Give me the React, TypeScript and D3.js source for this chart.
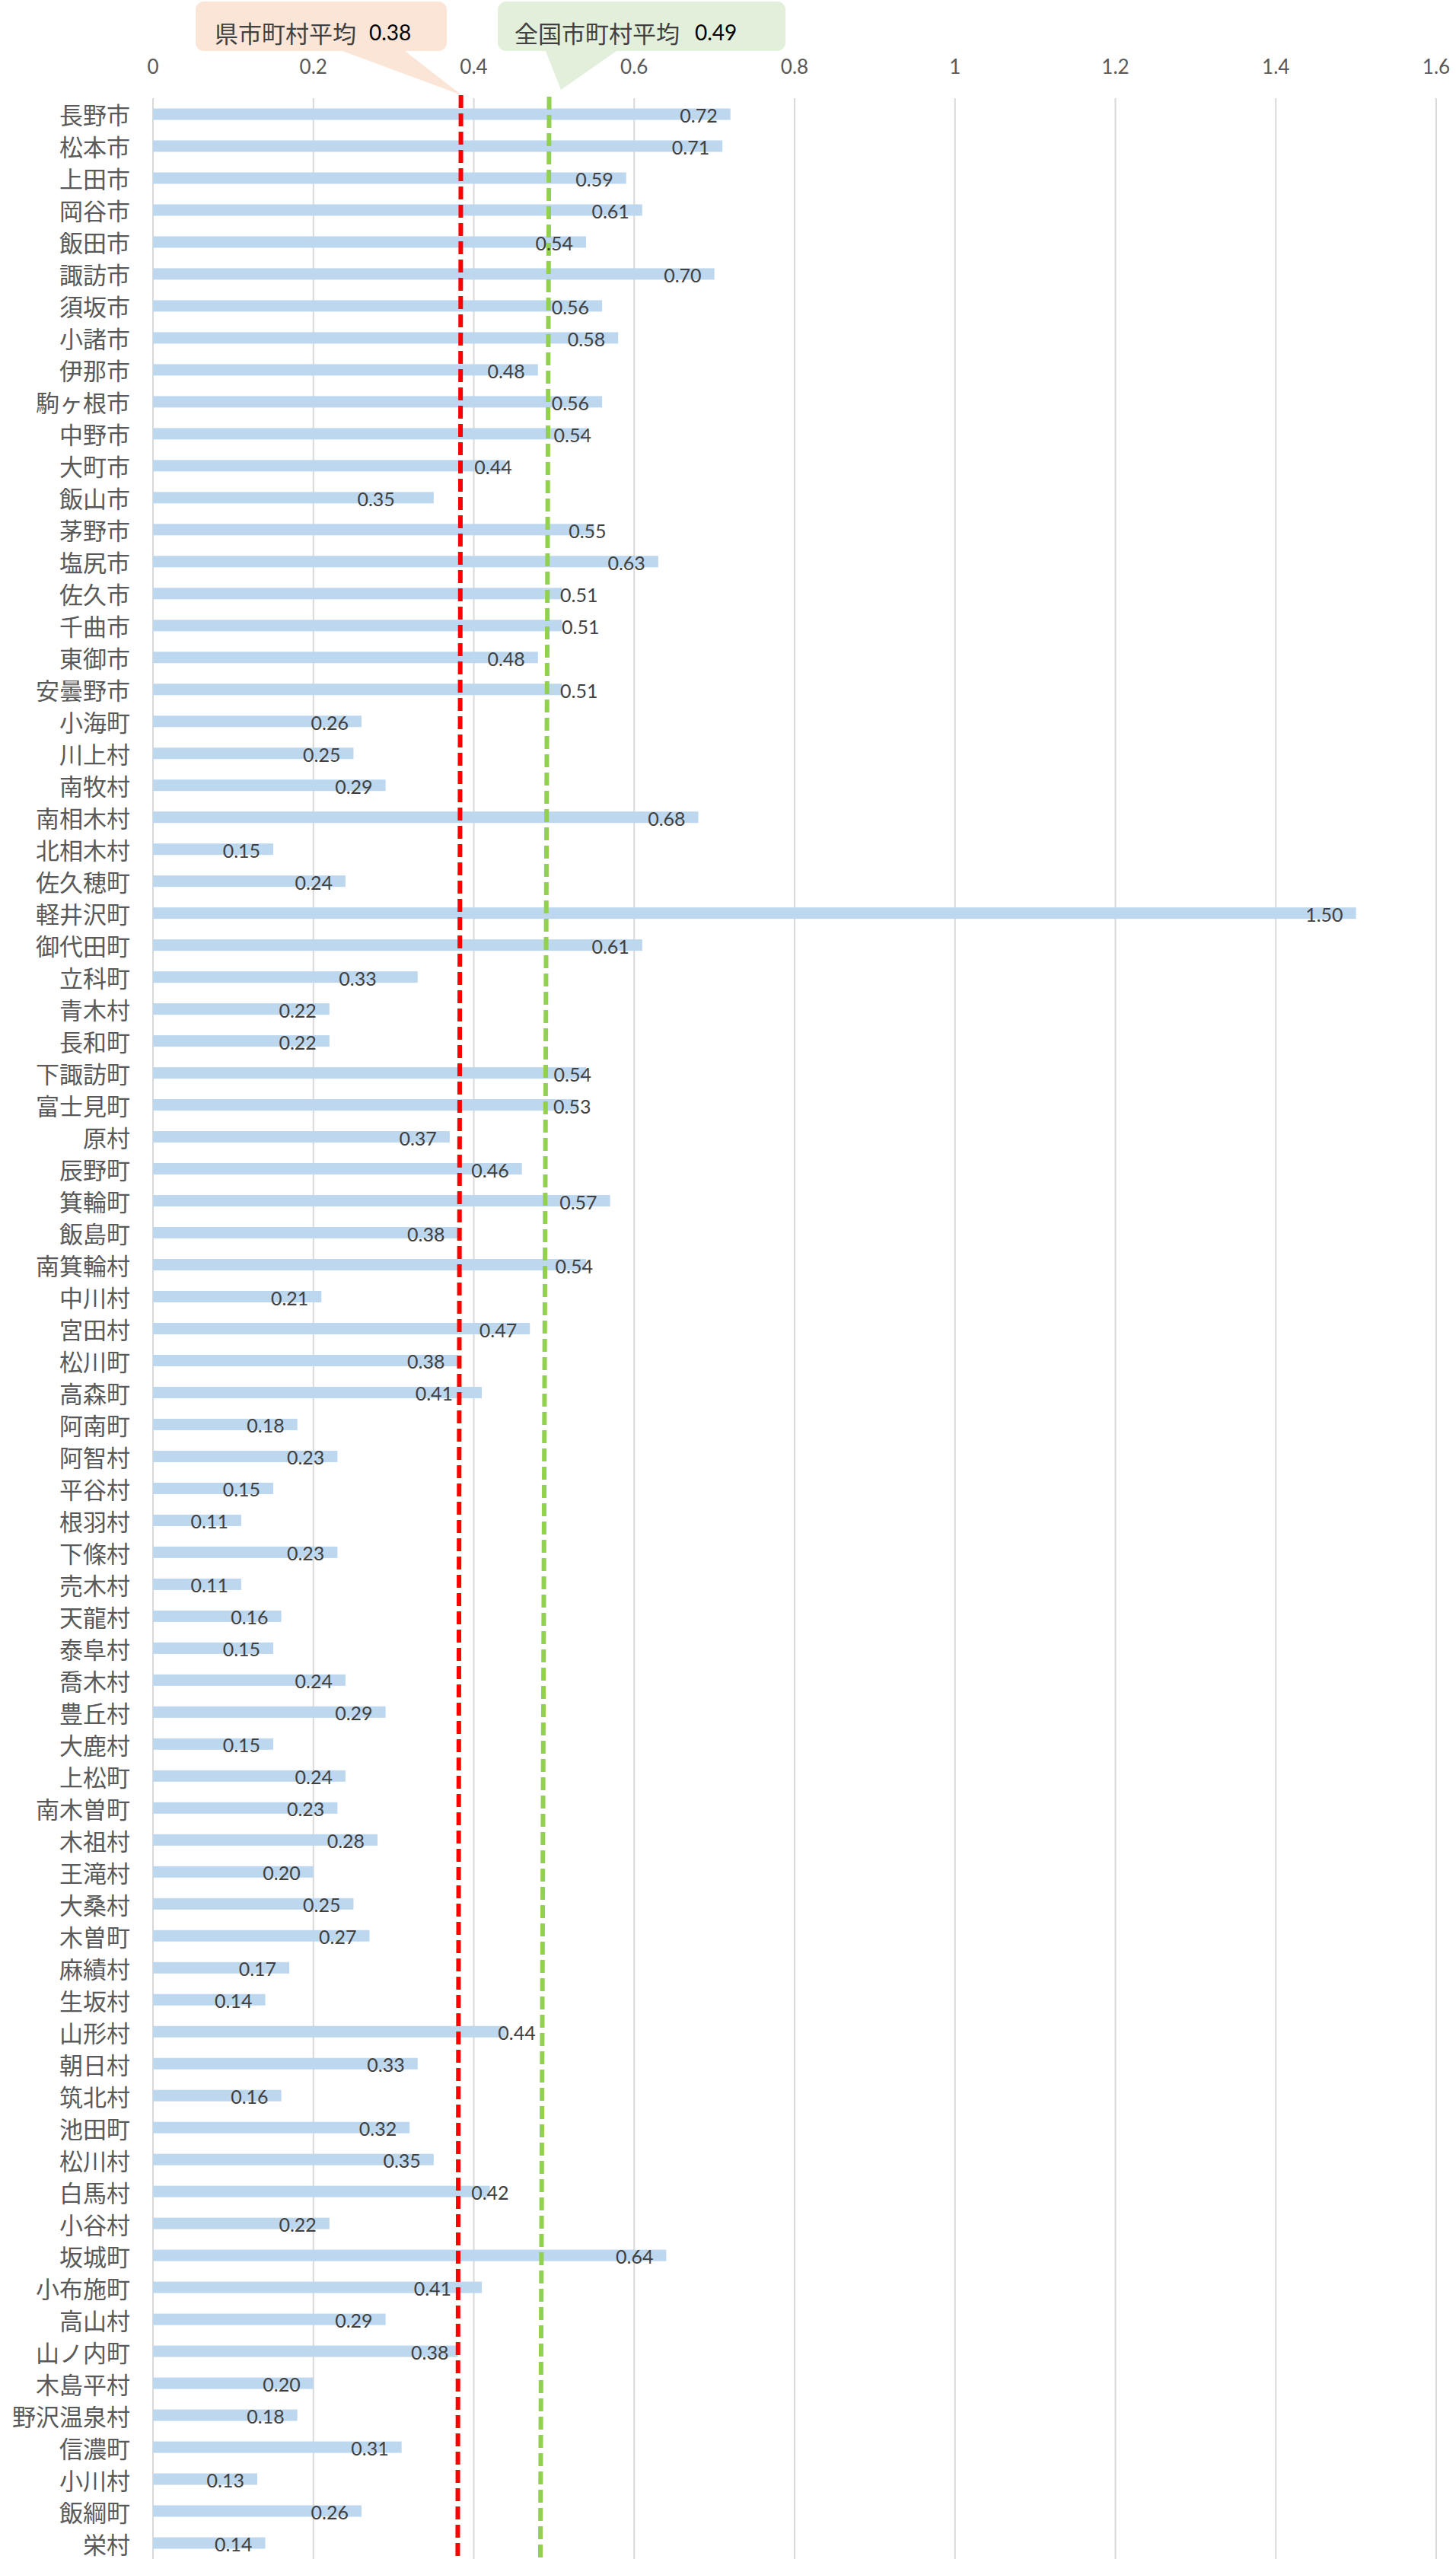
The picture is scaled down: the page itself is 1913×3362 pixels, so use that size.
import React from "react";
import * as d3 from "d3";

const categories: string[] = [
  "長野市", "松本市", "上田市", "岡谷市", "飯田市", "諏訪市", "須坂市", "小諸市", "伊那市", "駒ヶ根市",
  "中野市", "大町市", "飯山市", "茅野市", "塩尻市", "佐久市", "千曲市", "東御市", "安曇野市", "小海町",
  "川上村", "南牧村", "南相木村", "北相木村", "佐久穂町", "軽井沢町", "御代田町", "立科町", "青木村", "長和町",
  "下諏訪町", "富士見町", "原村", "辰野町", "箕輪町", "飯島町", "南箕輪村", "中川村", "宮田村", "松川町",
  "高森町", "阿南町", "阿智村", "平谷村", "根羽村", "下條村", "売木村", "天龍村", "泰阜村", "喬木村",
  "豊丘村", "大鹿村", "上松町", "南木曽町", "木祖村", "王滝村", "大桑村", "木曽町", "麻績村", "生坂村",
  "山形村", "朝日村", "筑北村", "池田町", "松川村", "白馬村", "小谷村", "坂城町", "小布施町", "高山村",
  "山ノ内町", "木島平村", "野沢温泉村", "信濃町", "小川村", "飯綱町", "栄村",
];

const values: number[] = [
  0.72, 0.71, 0.59, 0.61, 0.54, 0.70, 0.56, 0.58, 0.48, 0.56,
  0.54, 0.44, 0.35, 0.55, 0.63, 0.51, 0.51, 0.48, 0.51, 0.26,
  0.25, 0.29, 0.68, 0.15, 0.24, 1.50, 0.61, 0.33, 0.22, 0.22,
  0.54, 0.53, 0.37, 0.46, 0.57, 0.38, 0.54, 0.21, 0.47, 0.38,
  0.41, 0.18, 0.23, 0.15, 0.11, 0.23, 0.11, 0.16, 0.15, 0.24,
  0.29, 0.15, 0.24, 0.23, 0.28, 0.20, 0.25, 0.27, 0.17, 0.14,
  0.44, 0.33, 0.16, 0.32, 0.35, 0.42, 0.22, 0.64, 0.41, 0.29,
  0.38, 0.20, 0.18, 0.31, 0.13, 0.26, 0.14,
];

const xTicks: number[] = [0, 0.2, 0.4, 0.6, 0.8, 1, 1.2, 1.4, 1.6];

// average reference lines (hand-drawn shapes, slightly slanted): [top, bottom]
const prefAvgLabel = "県市町村平均";
const prefAvgValue = 0.38;
const prefLineEnds: number[] = [0.384, 0.38];
const natAvgLabel = "全国市町村平均";
const natAvgValue = 0.49;
const natLineEnds: number[] = [0.494, 0.483];

// layout: manual horizontal nudges (px) of some data labels, as in the original
const labelNudge: Record<string, number> = {
  中野市: 24, 大町市: 25, 飯山市: -34, 茅野市: 33, 佐久市: 64, 千曲市: 66, 安曇野市: 64,
  立科町: -37, 下諏訪町: 24, 富士見町: 34, 南箕輪村: 26, 高森町: -21,
  山形村: 56, 白馬村: 42, 小布施町: -23, 山ノ内町: 5,
};

const W = 1913;
const H = 3362;
const plotLeft = 201;
const plotRight = 1887;
const plotTop = 129;
const plotBottom = 3362;

const CJK = "'Noto Sans CJK JP', 'Noto Sans', sans-serif";
const NUM = "Lato, 'Open Sans', 'Noto Sans', sans-serif";

export default function App() {
  const x = d3.scaleLinear().domain([0, 1.6]).range([plotLeft, plotRight]);
  const barPad = 0.643;
  const y = d3
    .scaleBand<string>()
    .domain(categories)
    .range([plotTop, plotBottom])
    .paddingInner(barPad)
    .paddingOuter(barPad / 2);
  const bw = y.bandwidth();

  const fmt = d3.format(".2f");

  const prefTop = x(prefLineEnds[0]);
  const prefBot = x(prefLineEnds[1]);
  const natTop = x(natLineEnds[0]);
  const natBot = x(natLineEnds[1]);

  const calloutPath = (
    bx0: number, by0: number, bx1: number, by1: number, r: number,
    p0: number, p1: number, tx: number, ty: number
  ) => {
    const p = d3.path();
    p.moveTo(bx0 + r, by0);
    p.lineTo(bx1 - r, by0);
    p.arcTo(bx1, by0, bx1, by0 + r, r);
    p.lineTo(bx1, by1 - r);
    p.arcTo(bx1, by1, bx1 - r, by1, r);
    p.lineTo(p1, by1);
    p.lineTo(tx, ty);
    p.lineTo(p0, by1);
    p.lineTo(bx0 + r, by1);
    p.arcTo(bx0, by1, bx0, by1 - r, r);
    p.lineTo(bx0, by0 + r);
    p.arcTo(bx0, by0, bx0 + r, by0, r);
    p.closePath();
    return p.toString();
  };

  return (
    <svg
      width={W}
      height={H}
      viewBox={`0 0 ${W} ${H}`}
      style={{ position: "absolute", left: 0, top: 0, display: "block", background: "#fff" }}
    >
      <rect x={0} y={0} width={W} height={H} fill="#fff" />
      {xTicks.map((t) => (
        <line
          key={"g" + t}
          x1={x(t)}
          x2={x(t)}
          y1={plotTop}
          y2={plotBottom}
          stroke="#D9D9D9"
          strokeWidth={2}
        />
      ))}
      {xTicks.map((t) => (
        <text
          key={"t" + t}
          x={x(t)}
          y={87}
          textAnchor="middle"
          dominantBaseline="central"
          fontFamily={NUM}
          fontSize={26}
          fill="#595959"
        >
          {String(t)}
        </text>
      ))}
      {categories.map((c, i) => (
        <rect
          key={"b" + c}
          x={x(0)}
          y={y(c)!}
          width={x(values[i]) - x(0)}
          height={bw}
          fill="#BDD7EE"
        />
      ))}
      {categories.map((c) => (
        <text
          key={"c" + c}
          x={171}
          y={y(c)! + bw / 2}
          textAnchor="end"
          dominantBaseline="central"
          fontFamily={CJK}
          fontSize={31}
          fill="#595959"
        >
          {c}
        </text>
      ))}
      <line
        x1={prefTop}
        y1={125}
        x2={prefBot}
        y2={plotBottom}
        stroke="#FF0000"
        strokeWidth={6}
        strokeDasharray="17 7"
      />
      <line
        x1={natTop}
        y1={127}
        x2={natBot}
        y2={plotBottom}
        stroke="#92D050"
        strokeWidth={6}
        strokeDasharray="17 7"
      />
      {categories.map((c, i) => (
        <text
          key={"v" + c}
          x={x(values[i]) - 17 + (labelNudge[c] ?? 0)}
          y={y(c)! + bw / 2 + 1}
          textAnchor="end"
          dominantBaseline="central"
          fontFamily={NUM}
          fontSize={25}
          fill="#404040"
        >
          {fmt(values[i])}
        </text>
      ))}
      <path
        d={calloutPath(257, 2, 587, 67, 11, 450, 532, prefTop + 1, 125)}
        fill="#FBE5D6"
      />
      <text x={282} y={42} dominantBaseline="central">
        <tspan fontFamily={CJK} fontSize={31} fill="#404040">
          {prefAvgLabel}
        </tspan>
        <tspan dx={17} fontFamily={NUM} fontSize={28} fill="#000">
          {fmt(prefAvgValue)}
        </tspan>
      </text>
      <path
        d={calloutPath(654, 2, 1032, 67, 11, 717, 810, 737, 118)}
        fill="#E2EFDA"
      />
      <text x={676} y={42} dominantBaseline="central">
        <tspan fontFamily={CJK} fontSize={31} fill="#404040">
          {natAvgLabel}
        </tspan>
        <tspan dx={20} fontFamily={NUM} fontSize={28} fill="#000">
          {fmt(natAvgValue)}
        </tspan>
      </text>
    </svg>
  );
}
